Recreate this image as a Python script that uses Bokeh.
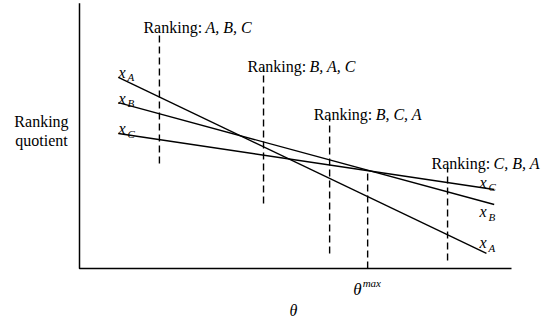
from bokeh.plotting import figure
from bokeh.models import Range1d, ColumnDataSource
from bokeh.core.properties import value
from bokeh.embed import file_html
from bokeh.resources import INLINE

# ---- data (theta units along x, ranking quotient along y) ----
series = ["A", "B", "C"]
theta_start = [0.9, 0.9, 0.9]
theta_end = [9.42, 9.6, 9.6]
q_start = [7.35, 6.38, 5.19]
q_end = [0.58, 2.46, 3.04]

# line-name labels at both ends
start_lab_theta = [0.9, 0.9, 0.9]
start_lab_q = [7.54, 6.54, 5.38]
end_lab_theta = [9.26, 9.26, 9.26]
end_lab_q = [1.0, 2.19, 3.31]

# dashed markers
dash_theta = [1.85, 4.26, 5.79, 6.67, 8.52]
dash_top = [9.15, 7.69, 5.81, 3.69, 3.88]
dash_bottom = [4.04, 2.5, 0.58, 0.0, 0.31]

# ranking annotations
ranking_orders = ["A, B, C", "B, A, C", "B, C, A", "C, B, A"]
ranking_theta = [1.85, 4.26, 5.79, 8.52]
ranking_q = [9.27, 7.77, 5.92, 4.04]

theta_max = 6.67
axis_theta_end = 10.0
axis_q_top = 10.2

FONT = value("Liberation Serif")

p = figure(width=548, height=320, output_backend="svg", toolbar_location=None,
           x_axis_type=None, y_axis_type=None,
           x_range=Range1d(-79 / 43.2, 469 / 43.2), y_range=Range1d(-52 / 26, 268 / 26),
           min_border=0, min_border_left=0, min_border_right=0,
           min_border_top=0, min_border_bottom=0)
p.outline_line_color = None
p.grid.visible = False
p.background_fill_color = "white"
p.border_fill_color = "white"

# axes
p.line(x=[0, 0, axis_theta_end], y=[axis_q_top, 0, 0], line_color="black", line_width=1.5)

# main lines
p.segment(x0=theta_start, y0=q_start, x1=theta_end, y1=q_end,
          line_color="black", line_width=1.4)

# dashed lines
p.segment(x0=dash_theta, y0=dash_bottom, x1=dash_theta, y1=dash_top,
          line_color="black", line_width=1.4, line_dash="7 4")

# ranking labels
rsrc = ColumnDataSource(dict(x=ranking_theta, y=ranking_q,
                             head=["Ranking:"] * len(ranking_orders),
                             order=ranking_orders))
p.text(x="x", y="y", text="head", source=rsrc, text_font=FONT, text_font_size="16px",
       text_align="left", text_baseline="alphabetic", x_offset=-16, text_color="black")
p.text(x="x", y="y", text="order", source=rsrc, text_font=FONT, text_font_size="16px",
       text_font_style="italic", text_align="left", text_baseline="alphabetic",
       x_offset=46, text_color="black")

# line name labels x_A etc.
for xs, ys in ((start_lab_theta, start_lab_q), (end_lab_theta, end_lab_q)):
    src = ColumnDataSource(dict(x=xs, y=ys, main=["x"] * 3, sub=series))
    p.text(x="x", y="y", text="main", source=src, text_font=FONT, text_font_size="16px",
           text_font_style="italic", text_align="left", text_baseline="alphabetic",
           text_color="black")
    p.text(x="x", y="y", text="sub", source=src, text_font=FONT, text_font_size="11px",
           text_font_style="italic", text_align="left", text_baseline="alphabetic",
           x_offset=9, y_offset=5, text_color="black")

# y axis title
p.text(x=[-0.88, -0.88], y=[5.65, 4.92], text=["Ranking", "quotient"], text_font=FONT,
       text_font_size="16px", text_align="center", text_baseline="alphabetic",
       text_color="black")

# theta^max
p.text(x=[theta_max], y=[-0.81], text=["θ"], text_font=FONT, text_font_size="17px",
       text_font_style="italic", text_align="right", text_baseline="alphabetic",
       x_offset=-6, text_color="black")
p.text(x=[theta_max], y=[-0.81], text=["max"], text_font=FONT, text_font_size="11px",
       text_font_style="italic", text_align="left", text_baseline="alphabetic",
       x_offset=-5, y_offset=-7, text_color="black")

# x axis title
p.text(x=[4.95], y=[-1.63], text=["θ"], text_font=FONT, text_font_size="16px",
       text_font_style="italic", text_align="center", text_baseline="alphabetic",
       text_color="black")

open("out.html", "w").write(file_html(p, INLINE))
